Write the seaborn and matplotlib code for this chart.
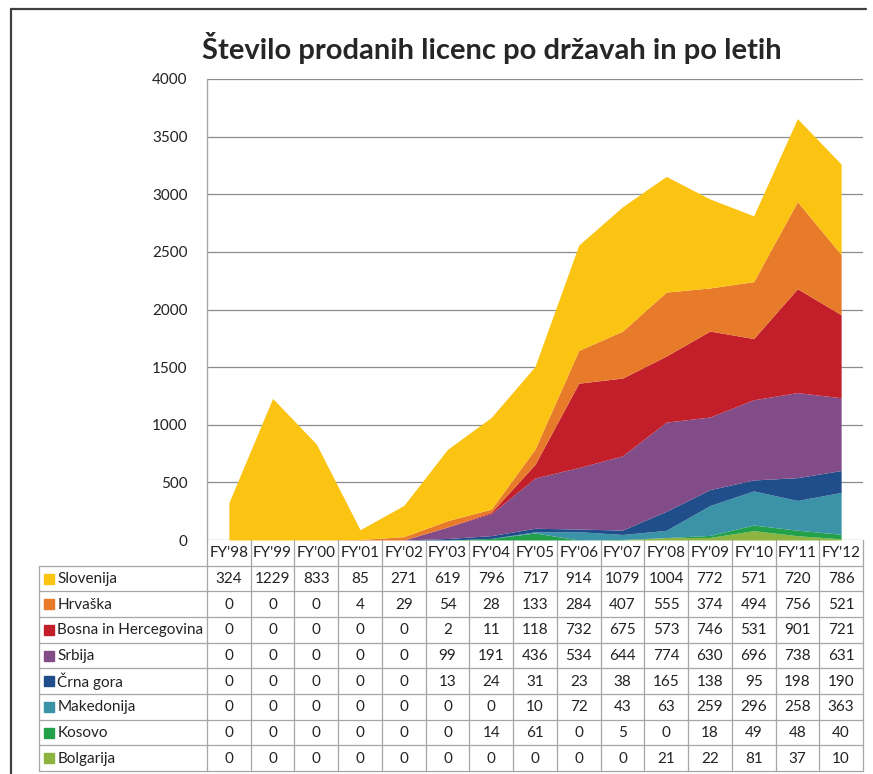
import matplotlib
matplotlib.use("Agg")
import matplotlib.pyplot as plt
import numpy as np
import pandas as pd
import seaborn as sns
from matplotlib.lines import Line2D

#%%
'''DATA'''
years = ["FY'98", "FY'99", "FY'00", "FY'01", "FY'02", "FY'03", "FY'04", "FY'05",
         "FY'06", "FY'07", "FY'08", "FY'09", "FY'10", "FY'11", "FY'12"]

slovenija = [324, 1229, 833, 85, 271, 619, 796, 717, 914, 1079, 1004, 772, 571, 720, 786]
hrvaska = [0, 0, 0, 4, 29, 54, 28, 133, 284, 407, 555, 374, 494, 756, 521]
bih = [0, 0, 0, 0, 0, 2, 11, 118, 732, 675, 573, 746, 531, 901, 721]
srbija = [0, 0, 0, 0, 0, 99, 191, 436, 534, 644, 774, 630, 696, 738, 631]
crna_gora = [0, 0, 0, 0, 0, 13, 24, 31, 23, 38, 165, 138, 95, 198, 190]
makedonija = [0, 0, 0, 0, 0, 0, 0, 10, 72, 43, 63, 259, 296, 258, 363]
kosovo = [0, 0, 0, 0, 0, 0, 14, 61, 0, 5, 0, 18, 49, 48, 40]
bolgarija = [0, 0, 0, 0, 0, 0, 0, 0, 0, 0, 21, 22, 81, 37, 10]

countries = ["Slovenija", "Hrvaška", "Bosna in Hercegovina", "Srbija",
             "Črna gora", "Makedonija", "Kosovo", "Bolgarija"]
colors = ["#FBC312", "#E87B2A", "#C21F2A", "#814C87",
          "#1F4E8A", "#3B93A7", "#23A14A", "#8DB340"]

df = pd.DataFrame(dict(zip(countries, [slovenija, hrvaska, bih, srbija,
                                       crna_gora, makedonija, kosovo, bolgarija])),
                  index = years)

#%%
'''PLOT'''
sns.set_style("white")
plt.rcParams['font.family'] = ['Lato', 'DejaVu Sans']

W, H = 873, 774
fig = plt.figure(figsize = (W / 100, H / 100), dpi = 100)

def fx(px):
    return px / W

def fy(py):
    return 1 - py / H

#Area chart axes
ax = fig.add_axes([fx(207), fy(540), fx(863) - fx(207), fy(79) - fy(540)])
x = np.arange(len(years))
#Stack from bottom (Bolgarija) to top (Slovenija)
order = countries[::-1]
ax.stackplot(x, [df[c].values for c in order],
             colors = colors[::-1], linewidth = 0)
ax.set_xlim(-0.5, len(years) - 0.5)
ax.set_ylim(0, 4000)
ax.set_yticks(np.arange(0, 4001, 500))
ax.yaxis.grid(True, color = '#8C8C8C', linewidth = 0.9)
ax.set_axisbelow(True)
ax.set_xticks([])
ax.tick_params(axis = 'y', length = 0, pad = 14, labelsize = 11, labelcolor = '#222222')
for s in ['top', 'right', 'bottom']:
    ax.spines[s].set_visible(False)
ax.spines['left'].set_color('#A6A6A6')
ax.spines['left'].set_linewidth(1)

#Title
fig.text(fx(492), fy(48), "Število prodanih licenc po državah in po letih",
         ha = 'center', va = 'center', fontsize = 21, fontweight = 'bold')

#Data table axes
tx0 = -0.5 - (207 - 39) / (656 / 15)
tab = fig.add_axes([fx(39), fy(771), fx(863) - fx(39), fy(540) - fy(771)])
tab.set_xlim(tx0, len(years) - 0.5)
tab.set_ylim(len(countries), -1)
tab.axis('off')
lc = '#A6A6A6'
lw = 0.9

#Horizontal lines
for r in range(len(countries) + 1):
    tab.plot([tx0, len(years) - 0.5], [r, r], color = lc, lw = lw, clip_on = False)
#Vertical lines
for c in range(len(years) + 1):
    tab.plot([c - 0.5, c - 0.5], [-1, len(countries)], color = lc, lw = lw, clip_on = False)
tab.plot([tx0, tx0], [0, len(countries)], color = lc, lw = lw, clip_on = False)

#Header
for i, yr in enumerate(years):
    tab.text(i, -0.5, yr, ha = 'center', va = 'center', fontsize = 11, color = '#222222')

#Rows
for r, (name, col) in enumerate(zip(countries, colors)):
    tab.plot(tx0 + 0.22, r + 0.5, marker = 's', markersize = 6.5, color = col,
             linestyle = 'none', clip_on = False)
    tab.text(tx0 + 0.42, r + 0.52, name, ha = 'left', va = 'center', fontsize = 11,
             color = '#222222')
    for i, v in enumerate(df[name].values):
        tab.text(i, r + 0.52, str(v), ha = 'center', va = 'center', fontsize = 11,
                 color = '#222222')

#Outer frame (top and left edges)
fig.add_artist(Line2D([fx(11), fx(866)], [fy(9), fy(9)], color = '#404040', lw = 1.6))
fig.add_artist(Line2D([fx(11), fx(11)], [fy(9), fy(774)], color = '#404040', lw = 1.6))

fig.savefig("out.png", dpi = 100)
